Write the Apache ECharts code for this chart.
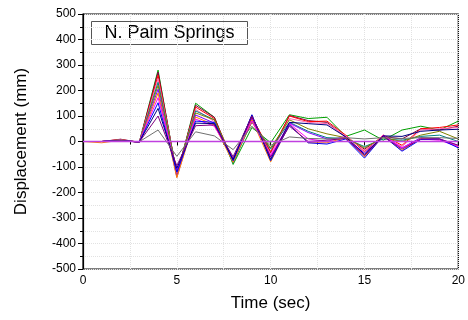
<!DOCTYPE html>
<html>
<head>
<meta charset="utf-8">
<script src="https://cdn.jsdelivr.net/npm/echarts@6/dist/echarts.min.js"></script>
<style>html,body{margin:0;padding:0;background:#fff;}#c{width:468px;height:320px;}</style>
</head>
<body>
<div id="c"></div>
<script>
var times = [0,1,2,3,4,5,6,7,8,9,10,11,12,13,14,15,16,17,18,19,20];
var xTicks = [0,5,10,15,20];
var yTicks = [-500,-400,-300,-200,-100,0,100,200,300,400,500];
var chartTitle = "N. Palm Springs";

var sGreen  = [0,0,6,-3,280,-135,150,95,-90,55,-5,105,90,95,20,45,5,45,60,45,80];
var sWine   = [0,0,9,-3,272,-130,142,95,-80,95,-45,102,82,75,18,-30,20,10,50,45,60];
var sRed    = [0,0,8,-4,260,-128,135,90,-78,95,-40,100,78,80,25,-40,25,-15,50,55,65];
var sPink   = [0,0,7,-3,246,-125,126,78,-72,85,-50,90,75,70,22,-35,20,-20,45,50,55];
var sCyan   = [0,0,6,-3,232,-120,120,85,-85,80,-30,75,40,15,12,-20,10,5,20,25,0];
var sOlive  = [0,0,6,-2,220,-118,112,85,-70,75,-25,85,50,30,15,-25,15,0,25,40,10];
var sViolet = [0,0,5,-3,205,-140,104,72,-78,90,-60,72,35,10,14,-45,20,-25,15,10,-15];
var sOrange = [0,-5,5,-3,190,-142,96,65,-82,85,-80,68,-5,-5,15,-60,20,-35,12,8,-20];
var sMagenta= [0,0,5,-2,172,-112,88,60,-66,80,-55,70,10,0,20,-55,25,-25,10,5,-20];
var sBlue   = [0,0,4,-2,152,-120,80,75,-75,105,-75,65,-5,-10,10,-65,22,-38,8,10,-25];
var sNavy   = [0,0,4,-2,130,-105,72,70,-70,102,-70,75,70,65,18,-50,22,20,40,45,48];
var sPurple = [0,0,3,-2,100,-95,62,65,-60,100,-62,60,0,5,12,-55,20,-30,10,10,-15];
var sGray   = [0,0,2,-1,45,-58,38,22,-32,60,-15,18,12,10,15,10,15,12,15,15,12];
var sZero   = [0,0,0,0,0,0,0,0,0,0,0,0,0,0,0,0,0,0,0,0,0];

var seriesList = [
  ['#00A000', sGreen], ['#800040', sWine], ['#FF0000', sRed], ['#FF66B3', sPink],
  ['#008080', sCyan], ['#808000', sOlive], ['#8000FF', sViolet], ['#FF8000', sOrange],
  ['#FF00FF', sMagenta], ['#0000FF', sBlue], ['#000080', sNavy], ['#800080', sPurple],
  ['#707070', sGray], ['#C040E0', sZero]
];

var chart = echarts.init(document.getElementById('c'), null, {renderer: 'canvas'});
var font = 'Liberation Sans, Arial, sans-serif';
var option = {
  animation: false,
  backgroundColor: '#fff',
  grid: {left: 83, right: 8, top: 14, bottom: 51, show: true, borderColor: '#000', borderWidth: 1.2},
  xAxis: {
    type: 'value', min: 0, max: 20, interval: 5,
    name: 'Time (sec)', nameLocation: 'middle', nameGap: 26,
    nameTextStyle: {fontFamily: font, fontSize: 17, color: '#000'},
    axisLine: {lineStyle: {color: '#000', width: 1.2}},
    axisTick: {show: true, length: 4, lineStyle: {color: '#000'}},
    minorTick: {show: true, splitNumber: 2, length: 3, lineStyle: {color: '#000'}},
    axisLabel: {fontFamily: font, fontSize: 12, color: '#000', margin: 6},
    splitLine: {show: true, lineStyle: {color: '#e2e2e2', type: 'dotted'}},
    minorSplitLine: {show: true, lineStyle: {color: '#e2e2e2', type: 'dotted'}}
  },
  yAxis: {
    type: 'value', min: -500, max: 500, interval: 100,
    name: 'Displacement (mm)', nameLocation: 'middle', nameGap: 53,
    nameTextStyle: {fontFamily: font, fontSize: 17, color: '#000'},
    axisLine: {show: true, lineStyle: {color: '#000', width: 1.2}},
    axisTick: {show: true, length: 5, lineStyle: {color: '#000'}},
    minorTick: {show: true, splitNumber: 2, length: 3, lineStyle: {color: '#000'}},
    axisLabel: {fontFamily: font, fontSize: 12, color: '#000', margin: 7},
    splitLine: {show: true, lineStyle: {color: '#e2e2e2', type: 'dotted'}},
    minorSplitLine: {show: true, lineStyle: {color: '#e2e2e2', type: 'dotted'}}
  },
  graphic: [{
    type: 'group', left: 91, top: 21,
    children: [
      {type: 'rect', shape: {x: 0, y: 0, width: 156, height: 23}, style: {fill: '#fff', stroke: '#555', lineWidth: 1}},
      {type: 'text', x: 78, y: 12, style: {text: chartTitle, font: '18px ' + font, fill: '#000', align: 'center', verticalAlign: 'middle'}}
    ]
  }],
  series: seriesList.map(function (s, k) {
    return {
      type: 'line', showSymbol: false, symbol: 'none',
      data: times.map(function (t, i) { return [t, s[1][i]]; }),
      lineStyle: {color: s[0], width: k === seriesList.length - 1 ? 1.4 : 1},
      itemStyle: {color: s[0]},
      z: k === seriesList.length - 1 ? 3 : 2
    };
  })
};
chart.setOption(option);
</script>
</body>
</html>
